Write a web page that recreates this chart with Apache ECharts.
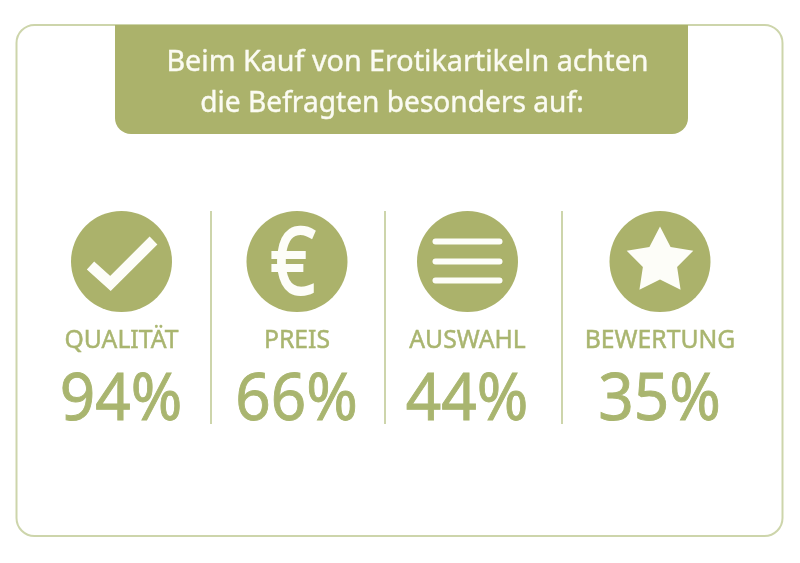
<!DOCTYPE html>
<html>
<head>
<meta charset="utf-8">
<style>html,body{margin:0;padding:0;background:#fff}#c{width:800px;height:563px}</style>
<script src="https://cdn.jsdelivr.net/npm/echarts@6/dist/echarts.min.js"></script>
</head>
<body>
<div id="c"></div>
<script>
const titleLines = ['Beim Kauf von Erotikartikeln achten', 'die Befragten besonders auf:'];
const categories = ['QUALITÄT', 'PREIS', 'AUSWAHL', 'BEWERTUNG'];
const values = [94, 66, 44, 35];

const GREEN = '#abb26b';
const TEXT_GREEN = '#a9b56f';
const LINE = '#cdd5ab';
const WHITE = '#fdfdf8';
const FONT = '"Noto Sans", sans-serif';

const titleX = [407.5, 392];
const centers = [121.5, 297, 467.5, 660];
const dividers = [211, 385, 562];
const circleY = 261.5;
const R = 50.5;

// sx squeezes the text, bold is a thin outline because the original face is a bit heavier
function label(text, x, y, size, sx, fill, bold) {
  return {
    type: 'text',
    x, y,
    scaleX: sx,
    style: {
      x: 0, y: 0, text, fill,
      stroke: fill, lineWidth: bold,
      font: '400 ' + size + 'px ' + FONT,
      align: 'center', verticalAlign: 'middle'
    }
  };
}

function iconFor(i, cx, cy) {
  if (i === 0) {
    return [{
      type: 'polyline',
      shape: { points: [[cx - 31, cy + 4], [cx - 11, cy + 22], [cx + 32, cy - 21]] },
      style: { stroke: WHITE, lineWidth: 11, fill: null, lineJoin: 'miter' }
    }];
  }
  if (i === 1) {
    return [label('€', cx - 4, cy + 6, 94, 0.84, WHITE, 2)];
  }
  if (i === 2) {
    return [-20, 0, 19].map(d => ({
      type: 'rect',
      shape: { x: cx - 35, y: cy + d - 3, width: 70, height: 6, r: 3 },
      style: { fill: WHITE }
    }));
  }
  const pts = [];
  for (let k = 0; k < 10; k++) {
    const r = k % 2 ? 18 : 35;
    const a = -Math.PI / 2 + k * Math.PI / 5;
    pts.push([cx + r * Math.cos(a), cy + r * Math.sin(a)]);
  }
  return [{ type: 'polygon', shape: { points: pts }, style: { fill: WHITE } }];
}

const graphic = [
  {
    type: 'rect',
    shape: { x: 16.5, y: 25, width: 766, height: 511, r: 18 },
    style: { fill: '#fff', stroke: LINE, lineWidth: 2 }
  },
  {
    type: 'rect',
    shape: { x: 115, y: 25, width: 573, height: 109, r: [0, 0, 16, 16] },
    style: { fill: GREEN }
  }
];

titleLines.forEach((t, i) => {
  graphic.push(label(t, titleX[i], 62.5 + i * 41, 29, i ? 0.97 : 0.99, '#fbfbf2', 0.4));
});

dividers.forEach(x => {
  graphic.push({
    type: 'line',
    shape: { x1: x, y1: 211, x2: x, y2: 424 },
    style: { stroke: LINE, lineWidth: 2 }
  });
});

categories.forEach((name, i) => {
  const cx = centers[i];
  graphic.push({ type: 'circle', shape: { cx, cy: circleY, r: R }, style: { fill: GREEN } });
  graphic.push(...iconFor(i, cx, circleY));
  graphic.push(label(name, cx, 341, 26, 0.95, TEXT_GREEN, 0.5));
  graphic.push(label(values[i] + '%', cx - 0.5, 401, 66, 0.94, TEXT_GREEN, 0.9));
});

const chart = echarts.init(document.getElementById('c'), null, { renderer: 'canvas' });
chart.setOption({ animation: false, graphic: { elements: graphic.map(g => Object.assign({ silent: true }, g)) } });
</script>
</body>
</html>
